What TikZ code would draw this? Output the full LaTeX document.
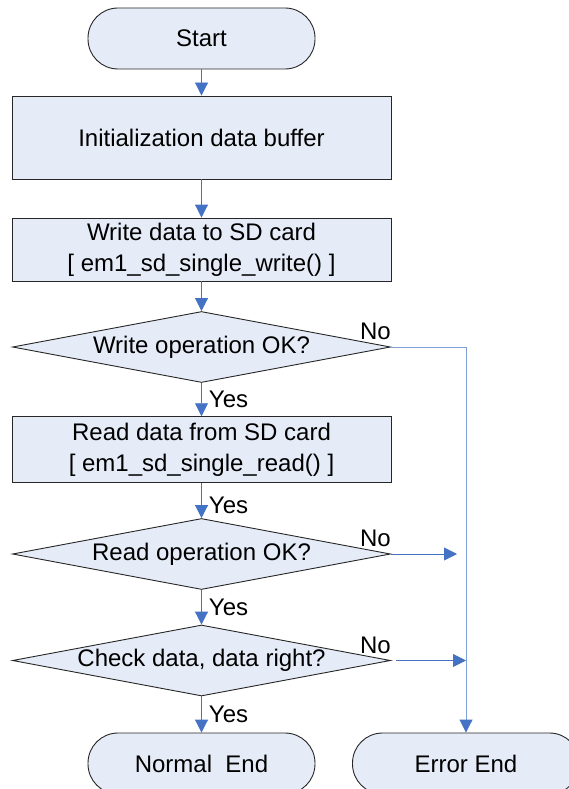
\documentclass[tikz,border=0pt]{standalone}
\usepackage{fontspec}
\setmainfont{Liberation Sans}
\usetikzlibrary{shapes.geometric,arrows.meta}
\definecolor{boxfill}{RGB}{230,236,247}
\definecolor{flowblue}{RGB}{68,114,196}
\definecolor{linkblue}{RGB}{127,160,216}

\begin{document}
\begin{tikzpicture}[x=1pt,y=-1pt,
  font=\fontsize{24}{31}\selectfont,
  base/.style={draw=black!85, line width=0.9pt, fill=boxfill, inner sep=0pt, align=center},
  terminal/.style={base, rectangle, rounded corners=30pt, minimum width=227pt, minimum height=61pt},
  process/.style={base, rectangle, minimum width=379pt},
  decision/.style={base, diamond, aspect=5.3, minimum width=378pt, minimum height=71pt},
  flow/.style={draw=flowblue, line width=0.9pt, -{Triangle[length=13pt,width=13pt]}},
  link/.style={draw=linkblue, line width=0.9pt, -{Triangle[length=13pt,width=13pt,color=flowblue]}},
  tag/.style={inner sep=0pt}
]
\useasboundingbox (0,0) rectangle (569,789);
\clip (0,0) rectangle (569,789);

% main column
\node[terminal] (start) at (201.5,38.5) {Start};
\node[process, minimum height=83pt] (init) at (201.5,137.5) {Initialization data buffer};
\node[process, minimum height=63pt] (write) at (201.5,249.5) {Write data to SD card\\{[} em1\_sd\_single\_write() ]};
\node[decision] (d1) at (201.5,347) {Write operation OK?};
\node[process, minimum height=66pt] (read) at (201.5,449.7) {Read data from SD card\\{[} em1\_sd\_single\_read() ]};
\node[decision] (d2) at (201.5,554) {Read operation OK?};
\node[decision] (d3) at (201.5,660.5) {Check data, data right?};
\node[terminal] (normal) at (201.5,763.5) {Normal\ \ End};
\node[terminal] (error) at (466,763.5) {Error End};

% yes branch
\draw[flow] (start) -- (init);
\draw[flow] (init) -- (write);
\draw[flow] (write) -- (d1);
\draw[flow] (d1) -- node[tag, right=7pt] {Yes} (read);
\draw[flow] (read) -- node[tag, right=7pt, pos=0.65] {Yes} (d2);
\draw[flow] (d2) -- node[tag, right=7pt] {Yes} (d3);
\draw[flow] (d3) -- node[tag, right=7pt] {Yes} (normal);

% no branch
\coordinate (n2) at (457,554);
\draw[link] (d1.east) -| (error.north);
\draw[flow] (d2.east) -- (n2);
\draw[flow, shorten <=5pt] (d3.east) -- (d3.east -| error.north);

\node[tag, anchor=south east] (no1) at ([yshift=7pt]d1.east) {No};
\node[tag, anchor=south east] (no2) at ([yshift=7pt]d2.east) {No};
\node[tag, anchor=south east] (no3) at ([yshift=7pt]d3.east) {No};
\end{tikzpicture}
\end{document}
